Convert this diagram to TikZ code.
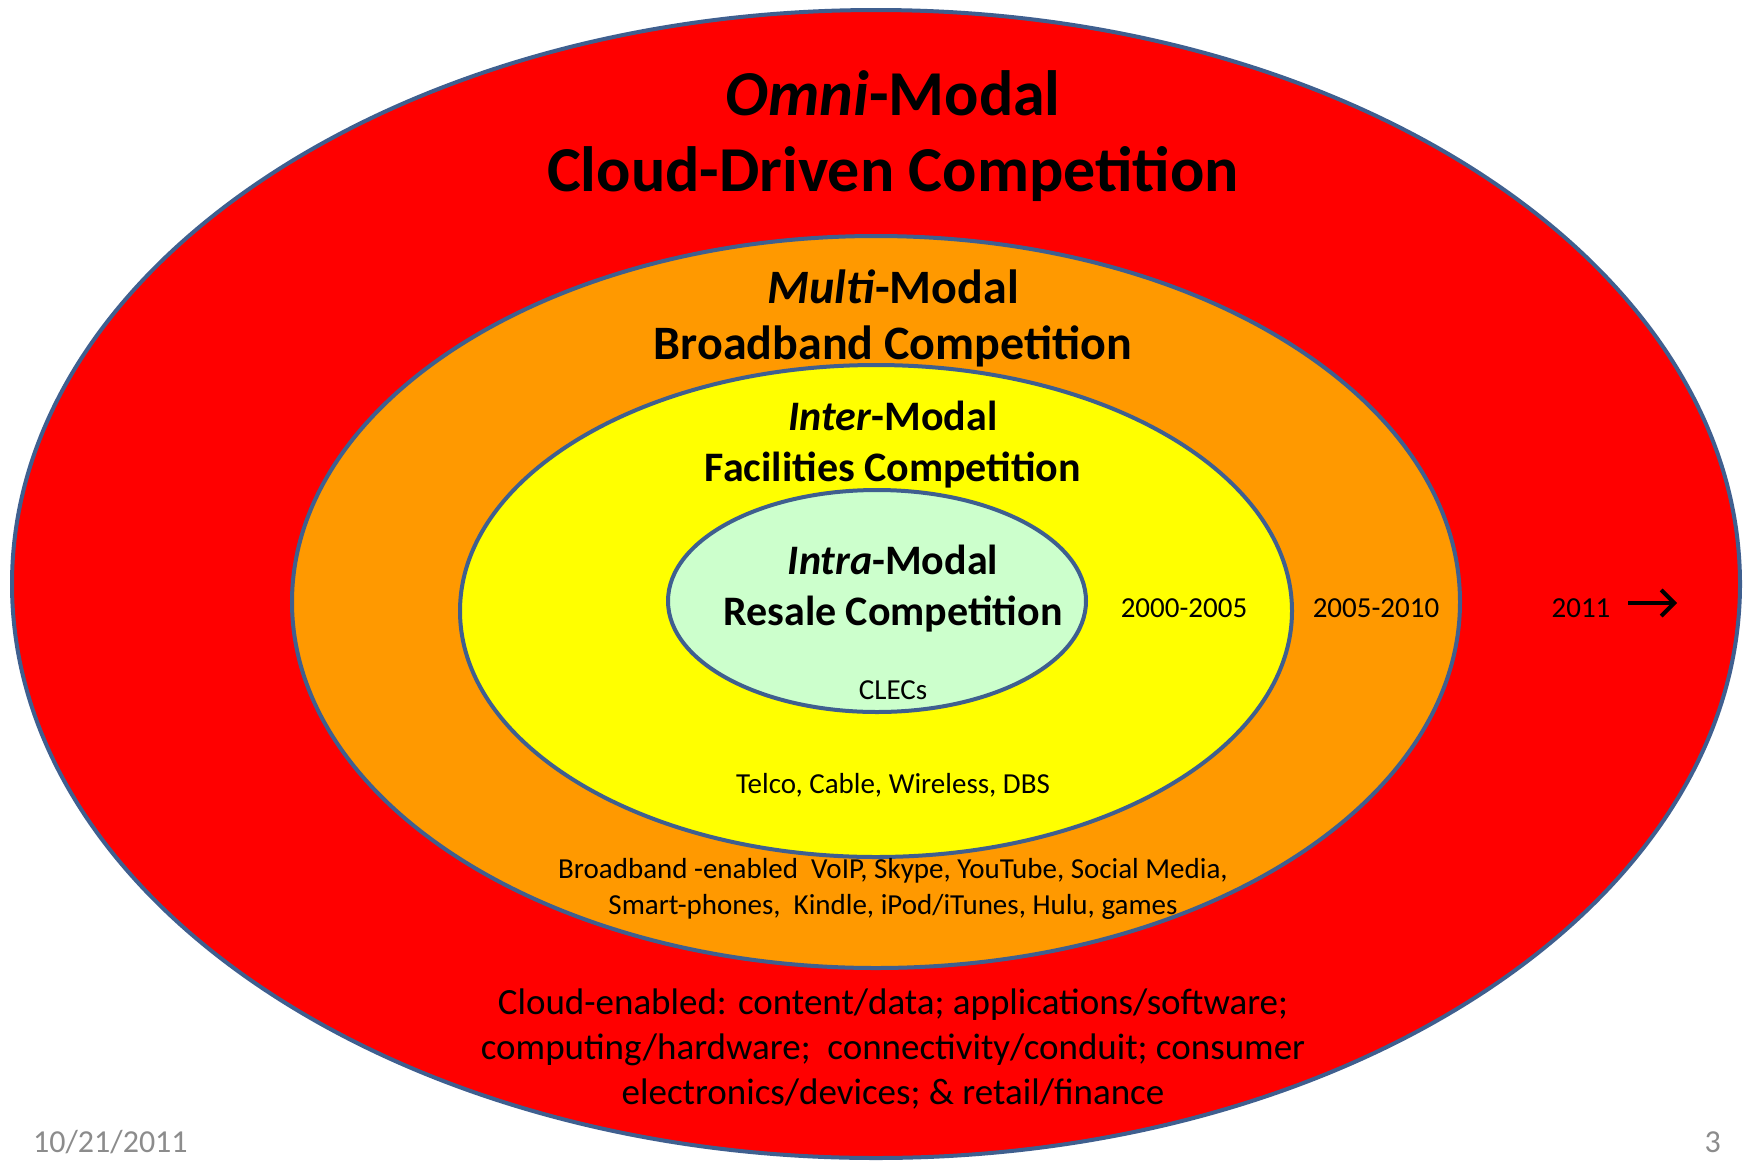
\documentclass[tikz,border=0pt]{standalone}
\usepackage{fontspec}
\setmainfont{Carlito}
\usetikzlibrary{arrows.meta}
\definecolor{ring}{HTML}{3F5F8F}
\definecolor{omni}{HTML}{FF0000}
\definecolor{multi}{HTML}{FF9900}
\definecolor{inter}{HTML}{FFFF00}
\definecolor{intra}{HTML}{CCFFCC}
\definecolor{foot}{HTML}{8C8C8C}
\tikzset{
  band/.style={draw=ring, line width=4pt},
  title/.style={align=center, font=\bfseries, inner sep=0pt},
  lbl/.style={align=center, inner sep=0pt},
}
\begin{document}
\begin{tikzpicture}[x=1pt,y=-1pt]
\useasboundingbox (0,0) rectangle (1743,1160);
\fill[white] (0,0) rectangle (1743,1160);
\draw[band, fill=omni] (876,584) ellipse [x radius=864, y radius=574];
\draw[band, fill=multi] (876,602) ellipse [x radius=584, y radius=366];
\draw[band, fill=inter] (876,611) ellipse [x radius=416, y radius=246];
\draw[band, fill=intra] (877,601) ellipse [x radius=209, y radius=111];

\node[title, font=\bfseries\fontsize{64}{76}\selectfont] (omnit) at (893,136) {\textit{Omni}-Modal\\Cloud-Driven Competition};
\node[title, font=\bfseries\fontsize{48}{56}\selectfont] (multit) at (893,318) {\textit{Multi}-Modal\\Broadband Competition};
\node[title, font=\bfseries\fontsize{42}{51}\selectfont] (intert) at (893,445) {\textit{Inter}-Modal\\Facilities Competition};
\node[title, font=\bfseries\fontsize{42}{51}\selectfont] (intrat) at (893,589) {\textit{Intra}-Modal\\Resale Competition};

\node[lbl, font=\fontsize{29}{33}\selectfont] (clecs) at (893,690) {CLECs};
\node[lbl, font=\fontsize{29}{33}\selectfont] (y1) at (1184,608) {2000-2005};
\node[lbl, font=\fontsize{29}{33}\selectfont] (y2) at (1376,608) {2005-2010};
\node[lbl, font=\fontsize{29}{33}\selectfont] (y3) at (1581,608) {2011};
\coordinate (a1) at (1628,603);
\coordinate (a2) at (1677,603);
\draw[line width=4pt, -{Straight Barb[length=13pt,width=26pt]}] (a1) -- (a2);
\node[lbl, font=\fontsize{29}{33}\selectfont] (telco) at (893,785) {Telco, Cable, Wireless, DBS};
\node[lbl, font=\fontsize{29}{35.5}\selectfont] (bb) at (893,889) {Broadband -enabled\ \ VoIP, Skype, YouTube, Social Media,\\Smart-phones,\ \ Kindle, iPod/iTunes, Hulu, games};
\node[lbl, font=\fontsize{37}{45}\selectfont] (cloud) at (893,1049) {Cloud-enabled: content/data; applications/software;\\computing/hardware;\ \ connectivity/conduit; consumer\\electronics/devices; \& retail/finance};
\node[lbl, anchor=west, text=foot, font=\fontsize{32}{36}\selectfont] (date) at (33,1142) {10/21/2011};
\node[lbl, anchor=east, text=foot, font=\fontsize{32}{36}\selectfont] (page) at (1721,1142) {3};
\end{tikzpicture}
\end{document}
